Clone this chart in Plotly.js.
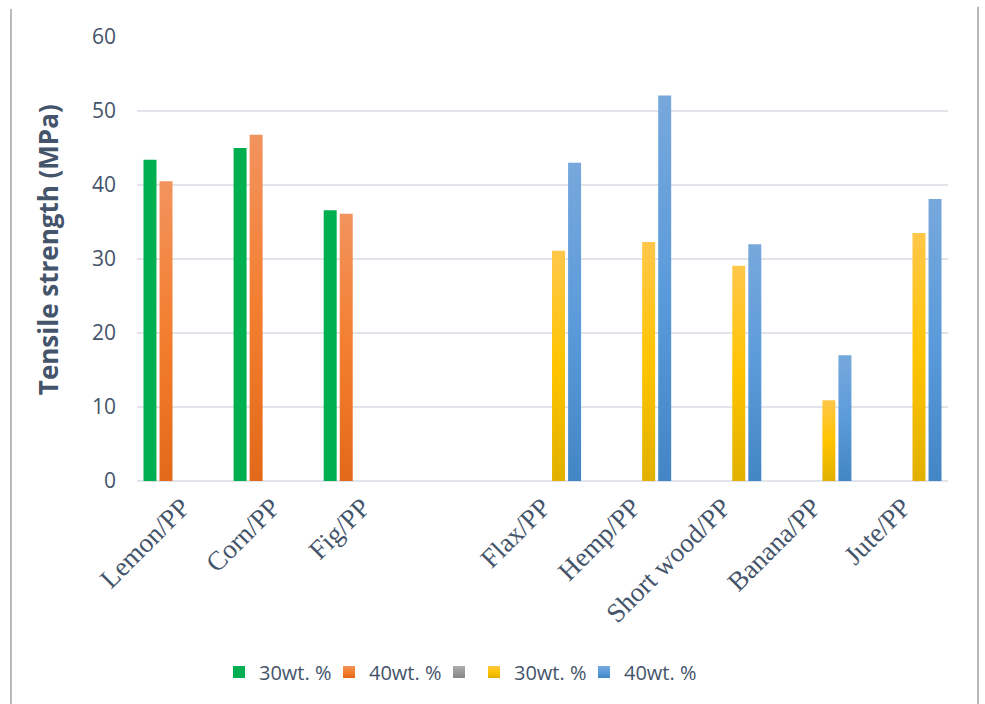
<!DOCTYPE html>
<html>
<head>
<meta charset="utf-8">
<script src="https://cdn.plot.ly/plotly-3.0.1.min.js"></script>
<style>
  html, body { margin: 0; padding: 0; background: #ffffff; }
  #chart { width: 985px; height: 704px; }
</style>
</head>
<body>
<div id="chart"></div>
<script>
// Composite categories; the blank entry separates the two material groups
const categories = ['Lemon/PP', 'Corn/PP', 'Fig/PP', '', 'Flax/PP', 'Hemp/PP', 'Short wood/PP', 'Banana/PP', 'Jute/PP'];

// Tensile strength (MPa)
const greenSeries30  = [43.4, 45.0, 36.6, null, null, null, null, null, null];
const orangeSeries40 = [40.5, 46.8, 36.1, null, null, null, null, null, null];
const graySeries     = [null, null, null, null, null, null, null, null, null];
const yellowSeries30 = [null, null, null, null, 31.1, 32.3, 29.1, 10.9, 33.5];
const blueSeries40   = [null, null, null, null, 43.0, 52.1, 32.0, 17.0, 38.1];

const seriesNames = ['30wt. %', '40wt. %', '', '30wt. %', '40wt. %'];
const yTicks = [0, 10, 20, 30, 40, 50, 60];
const yTitle = 'Tensile strength (MPa)';

// Vertical fill gradients (top -> middle -> bottom) per series
const fills = [
  ['#00B050', '#00B050', '#00B050'],
  ['#F2935E', '#F47E2F', '#E2691A'],
  ['#ADADAD', '#9A9A9A', '#878787'],
  ['#FFC74A', '#FFC400', '#E1B000'],
  ['#77A8DC', '#5B9BDB', '#4386C5']
];
// legend placement: the first three entries share one legend box, the last two another
const legendOf = ['legend', 'legend', 'legend', 'legend2', 'legend2'];
const legendEntryWidth = [65, 65, 0, 65, 90];

const positions = categories.map((c, i) => i);
const allSeries = [greenSeries30, orangeSeries40, graySeries, yellowSeries30, blueSeries40];

const traces = allSeries.map((vals, k) => {
  const t = {
    type: 'bar',
    x: positions,
    y: vals,
    name: seriesNames[k],
    marker: { color: fills[k][1], line: { width: 0 } },
    showlegend: true,
    legend: legendOf[k]
  };
  if (legendEntryWidth[k]) t.legendwidth = legendEntryWidth[k];
  return t;
});

const textColor = '#44546A';
const legendFont = { family: 'Open Sans, sans-serif', size: 20, color: textColor };

const layout = {
  width: 985,
  height: 704,
  margin: { l: 137, r: 37, t: 37, b: 223 },
  paper_bgcolor: '#ffffff',
  plot_bgcolor: '#ffffff',
  barmode: 'group',
  bargap: 0.11,
  bargroupgap: 0.19,
  font: { family: 'Open Sans, sans-serif', color: textColor },
  xaxis: {
    range: [-0.5, categories.length - 0.5],
    tickvals: positions,
    ticktext: categories,
    tickangle: -45,
    tickfont: { family: 'Liberation Serif, serif', size: 27, color: textColor },
    showgrid: false,
    zeroline: false,
    showline: false,
    ticks: '',
    ticklabelstandoff: 4
  },
  yaxis: {
    range: [0, 60],
    tickvals: yTicks,
    ticktext: yTicks.map(String),
    tickfont: { family: 'Open Sans, sans-serif', size: 21, color: textColor },
    showgrid: true,
    gridcolor: '#E1E5EB',
    gridwidth: 2,
    zeroline: true,
    zerolinecolor: '#E1E5EB',
    zerolinewidth: 2,
    showline: false,
    ticks: '',
    ticklabelstandoff: 20
  },
  annotations: [{
    text: '<b>' + yTitle + '</b>',
    xref: 'paper', yref: 'paper',
    x: -0.1097, y: 0.52,
    xanchor: 'center', yanchor: 'middle',
    textangle: -90,
    showarrow: false,
    font: { family: 'Open Sans, sans-serif', size: 26, color: textColor }
  }],
  legend: {
    orientation: 'h',
    x: 0.1011,
    xanchor: 'left',
    y: -0.43,
    yanchor: 'middle',
    font: legendFont,
    traceorder: 'normal',
    itemclick: false
  },
  legend2: {
    orientation: 'h',
    x: 0.4155,
    xanchor: 'left',
    y: -0.43,
    yanchor: 'middle',
    font: legendFont,
    traceorder: 'normal',
    itemclick: false
  },
  shapes: [
    { type: 'line', xref: 'paper', yref: 'paper', x0: -0.1554, x1: -0.1554, y0: 1.063, y1: -0.51,
      line: { color: '#A3A3A3', width: 1.5 } },
    { type: 'line', xref: 'paper', yref: 'paper', x0: 1.037, x1: 1.037, y0: 1.068, y1: -0.51,
      line: { color: '#A3A3A3', width: 1.5 } }
  ]
};

Plotly.newPlot('chart', traces, layout, { staticPlot: true, displayModeBar: false }).then(gd => {
  const svg = gd.querySelector('svg.main-svg');
  const ns = 'http://www.w3.org/2000/svg';
  let defs = svg.querySelector('defs');
  if (!defs) { defs = document.createElementNS(ns, 'defs'); svg.insertBefore(defs, svg.firstChild); }
  fills.forEach((stops, k) => {
    const grad = document.createElementNS(ns, 'linearGradient');
    grad.setAttribute('id', 'barfill' + k);
    grad.setAttribute('x1', '0'); grad.setAttribute('y1', '0');
    grad.setAttribute('x2', '0'); grad.setAttribute('y2', '1');
    [0, 0.5, 1].forEach((off, j) => {
      const s = document.createElementNS(ns, 'stop');
      s.setAttribute('offset', off);
      s.setAttribute('stop-color', stops[j]);
      grad.appendChild(s);
    });
    defs.appendChild(grad);
  });
  gd.querySelectorAll('g.trace.bars').forEach((g, k) => {
    g.querySelectorAll('path').forEach(p => { p.style.fill = 'url(#barfill' + k + ')'; });
  });
  // legend entries carry their trace index in the bound data
  gd.querySelectorAll('g.traces').forEach(g => {
    const d = g.__data__;
    const idx = d && d[0] && d[0].trace ? d[0].trace.index : null;
    if (idx === null || idx === undefined) return;
    g.querySelectorAll('.legendpoints path').forEach(p => { p.style.fill = 'url(#barfill' + idx + ')'; });
  });
});
</script>
</body>
</html>
